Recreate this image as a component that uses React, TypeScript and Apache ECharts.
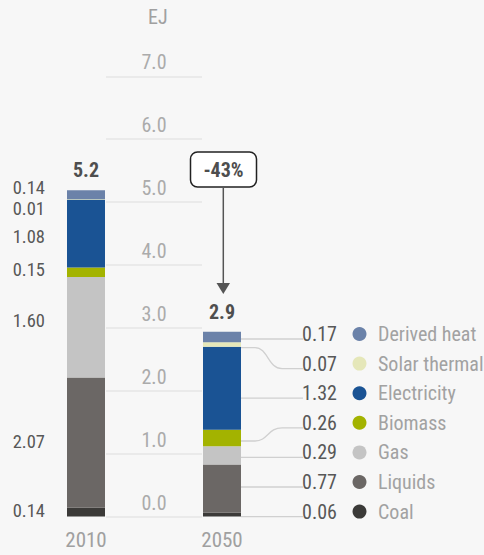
import React, { useEffect, useRef } from "react";
import * as echarts from "echarts";

const categories = ["2010", "2050"];
const seriesNames = ["Coal", "Liquids", "Gas", "Biomass", "Electricity", "Solar thermal", "Derived heat"];
const values2010 = [0.14, 2.07, 1.6, 0.15, 1.08, 0.01, 0.14];
const values2050 = [0.06, 0.77, 0.29, 0.26, 1.32, 0.07, 0.17];
const totals = [5.2, 2.9];
const changeLabel = "-43%";
const unitLabel = "EJ";
const colors = ["#3b3a38", "#6b6765", "#c4c4c4", "#a3b300", "#1a5394", "#e5e7b9", "#6b82a9"];
// vertical nudges (px) of the 2010 value labels so they do not overlap
const leftLabelShift = [-1, -1, -6, -2, 3, 10, -7];

const FONT = "'Liberation Sans Narrow', 'Roboto Condensed', 'DejaVu Sans Condensed', sans-serif";
const BAR_W = 38;

export default function App() {
  const ref = useRef<HTMLDivElement>(null);
  useEffect(() => {
    if (!ref.current) return;
    const chart = echarts.init(ref.current, null, { renderer: "svg" });

    const barSeries: any[] = seriesNames.map((name, k) => ({
      name,
      type: "bar",
      stack: "total",
      xAxisIndex: 0,
      yAxisIndex: 0,
      barWidth: BAR_W,
      silent: true,
      itemStyle: { color: colors[k] },
      data: [
        {
          value: values2010[k],
          label: {
            show: true,
            position: "left",
            distance: 22,
            offset: [0, leftLabelShift[k]],
            formatter: (p: any) => Number(p.value).toFixed(2),
            color: "#585858",
            fontSize: 18.5,
            lineHeight: 16,
            fontFamily: FONT,
          },
        },
        { value: values2050[k] },
      ],
    }));

    barSeries.push({
      name: "total",
      type: "bar",
      stack: "total",
      barWidth: BAR_W,
      silent: true,
      itemStyle: { color: "transparent" },
      data: [0, 0],
      label: {
        show: true,
        position: "top",
        distance: 10,
        formatter: (p: any) => totals[p.dataIndex].toFixed(1),
        color: "#4e4e4e",
        fontSize: 20,
        fontWeight: "bold",
        fontFamily: FONT,
      },
    });

    const customSeries = {
      type: "custom",
      xAxisIndex: 0,
      yAxisIndex: 0,
      silent: true,
      clip: false,
      data: values2050.map((v, i) => [1, v, i]),
      renderItem: (params: any, api: any) => {
        const i = params.dataIndex;
        let lo = 0;
        for (let j = 0; j < i; j++) lo += values2050[j];
        const hi = lo + values2050[i];
        const pLo = api.coord([1, lo]);
        const pHi = api.coord([1, hi]);
        const zeroY = api.coord([1, 0])[1];
        const cx = pLo[0];
        const barRight = cx + BAR_W / 2;
        const lineEnd = barRight + 62;
        const textY = zeroY - 5 - i * 29.6;
        const lineY = textY + 5;
        const yLo = pLo[1];
        const yHi = pHi[1];
        let d: string;
        if (lineY <= yLo + 0.5 && lineY >= yHi - 0.5) {
          d = `M${barRight} ${lineY} L${lineEnd} ${lineY}`;
        } else {
          const ys = (yLo + yHi) / 2 + 3;
          d = `M${barRight} ${ys} L${barRight + 14} ${ys} C${barRight + 27} ${ys} ${barRight + 27} ${lineY} ${barRight + 41} ${lineY} L${lineEnd} ${lineY}`;
        }
        return {
          type: "group",
          children: [
            {
              type: "path",
              shape: { pathData: d },
              style: { stroke: "#d0d0d0", lineWidth: 1.3, fill: null },
            },
            {
              type: "text",
              style: {
                text: values2050[i].toFixed(2),
                x: barRight + 96,
                y: textY,
                textAlign: "right",
                textVerticalAlign: "middle",
                fill: "#585858",
                fontSize: 20,
                lineHeight: 18,
                fontFamily: FONT,
              },
            },
            {
              type: "circle",
              shape: { cx: barRight + 118.5, cy: textY, r: 7 },
              style: { fill: colors[i] },
            },
            {
              type: "text",
              style: {
                text: seriesNames[i],
                x: barRight + 137,
                y: textY,
                textAlign: "left",
                textVerticalAlign: "middle",
                fill: "#a2a2a2",
                fontSize: 20,
                lineHeight: 18,
                fontFamily: FONT,
              },
            },
          ],
        };
      },
    };

    chart.setOption({
      animation: false,
      backgroundColor: "#f7f7f7",
      textStyle: { fontFamily: FONT },
      title: {
        text: unitLabel,
        left: 143,
        top: 2,
        textStyle: { color: "#a0a0a0", fontSize: 20, fontWeight: "normal", fontFamily: FONT },
      },
      grid: [
        { left: 18, right: 194, top: 76.3, bottom: 38.4 },
        { left: 106, right: 282, top: 76.3, bottom: 38.4 },
      ],
      xAxis: [
        {
          type: "category",
          gridIndex: 0,
          data: categories,
          axisLine: { show: false },
          axisTick: { show: false },
          axisLabel: { color: "#a0a0a0", fontSize: 21, margin: 13, fontFamily: FONT },
        },
        { type: "value", gridIndex: 1, show: false, min: 0, max: 1 },
      ],
      yAxis: [
        { type: "value", gridIndex: 0, min: 0, max: 7, interval: 1, show: false },
        {
          type: "value",
          gridIndex: 1,
          min: 0,
          max: 7,
          interval: 1,
          axisLine: { show: false },
          axisTick: { show: false },
          splitLine: { show: true, lineStyle: { color: "#e6e6e6", width: 1.5 } },
          axisLabel: {
            inside: true,
            margin: 48,
            align: "center",
            verticalAlign: "bottom",
            lineHeight: 20,
            padding: [0, 0, 4, 0],
            color: "#ababab",
            fontSize: 20,
            fontFamily: FONT,
            formatter: (v: number) => v.toFixed(1),
          },
        },
      ],
      graphic: [
        {
          type: "rect",
          shape: { x: 190.5, y: 152, width: 66, height: 35, r: 7 },
          style: { fill: "#ffffff", stroke: "#222222", lineWidth: 1.5 },
          silent: true,
        },
        {
          type: "text",
          style: {
            text: changeLabel,
            x: 223.5,
            y: 170,
            textAlign: "center",
            textVerticalAlign: "middle",
            fill: "#4e4e4e",
            fontSize: 20,
            fontWeight: "bold",
            fontFamily: FONT,
          },
          silent: true,
        },
        {
          type: "line",
          shape: { x1: 223.3, y1: 187.5, x2: 223.3, y2: 284 },
          style: { stroke: "#555555", lineWidth: 1.5 },
          silent: true,
        },
        {
          type: "polygon",
          shape: { points: [[216.5, 283], [230, 283], [223.3, 294]] },
          style: { fill: "#555555" },
          silent: true,
        },
      ],
      series: [...barSeries, customSeries],
    });

    return () => chart.dispose();
  }, []);

  return (
    <div
      ref={ref}
      style={{ position: "fixed", left: 0, top: 0, width: 484, height: 555 }}
    />
  );
}
